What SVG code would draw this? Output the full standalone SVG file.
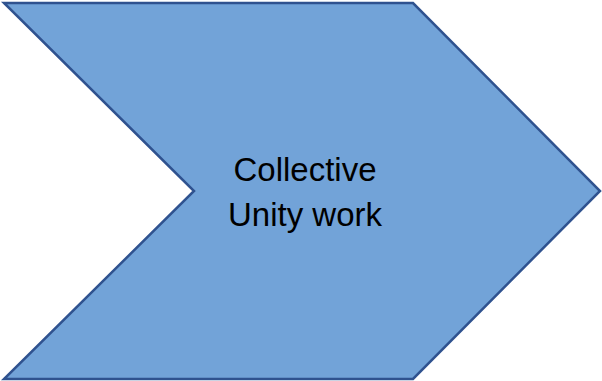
<svg xmlns="http://www.w3.org/2000/svg" width="602" height="381" viewBox="0 0 602 381">
<style>
.shape{fill:#72A3D8;stroke:#2F528F;stroke-width:2.5;stroke-linejoin:miter}
.lbl{font-family:"Liberation Sans",Arial,sans-serif;font-size:33px;fill:#000;text-anchor:middle}
</style>
<rect width="602" height="381" fill="#fff"/>
<g id="chevron">
<polygon class="shape" points="4,3 413,3 600,191 413,379 4,379 194,191"/>
<text class="lbl" x="305" y="181">Collective</text>
<text class="lbl" x="305" y="226">Unity work</text>
</g>
</svg>
